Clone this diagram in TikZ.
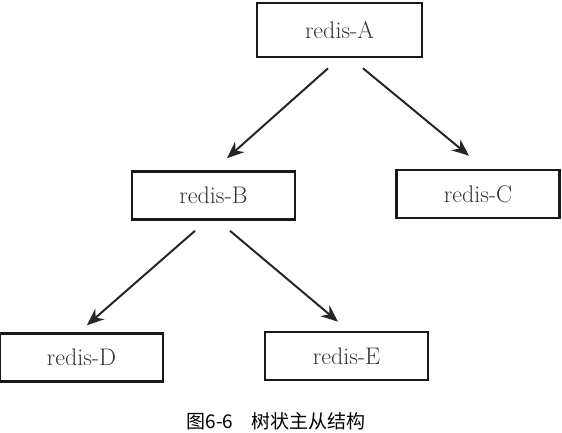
\documentclass[tikz,border=0pt]{standalone}
\usepackage{fontspec}
\usepackage{tikz}
\usetikzlibrary{arrows.meta}
\usetikzlibrary{calc,positioning}
\newfontfamily\cjk{Noto Sans CJK SC}

\begin{document}
\begin{tikzpicture}[x=1pt,y=-1pt,>={Stealth[length=17pt,width=14pt]},
 caixa/.style={draw=black!90,line width=2.6pt,minimum width=163pt,minimum height=48pt,
  inner sep=0pt,text=black!80,font=\fontsize{24}{28}\selectfont},
 seta/.style={->,line width=2pt,draw=black!85}]
    \useasboundingbox (0,0) rectangle (562,432);
    % Desenhar caixas: cada no' nas coordenadas da figura
    \node[caixa,minimum width=165pt,minimum height=54pt] (A) at (339.5,30) {redis-A};
    \node[caixa] (B) at (213.5,195.5) {redis-B};
    \node[caixa] (C) at (478,194) {redis-C};
    \node[caixa] (D) at (81.5,357.5) {redis-D};
    \node[caixa] (E) at (346.5,356) {redis-E};
    % Setas: de A para B e C, de B para D e E
    \draw[seta] ([xshift=-11.5pt,yshift=-10pt]A.south) -- ([xshift=13.5pt,yshift=12pt]B.north);
    \draw[seta] ([xshift=23.5pt,yshift=-10pt]A.south) -- ([xshift=-9pt,yshift=13pt]C.north);
    \draw[seta] ([xshift=-18.5pt,yshift=-10pt]B.south) -- ([xshift=5.5pt,yshift=7pt]D.north);
    \draw[seta] ([xshift=16.5pt,yshift=-10pt]B.south) -- ([xshift=-8.5pt,yshift=9pt]E.north);
    % legenda
    \node[font=\cjk\fontsize{19}{23}\selectfont] (legenda) at (276,421) {图6-6\hspace{18pt}树状主从结构};
\end{tikzpicture}
\end{document}
